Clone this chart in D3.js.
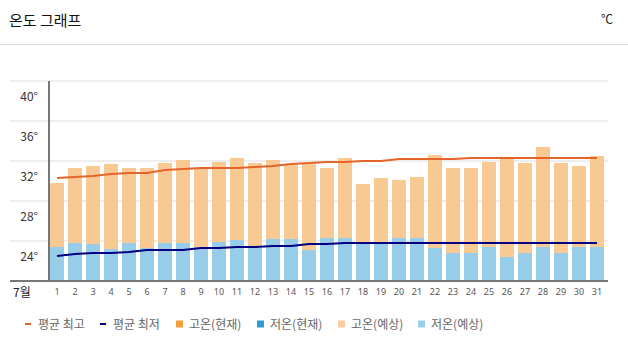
<!DOCTYPE html>
<html><head><meta charset="utf-8">
<script src="https://cdn.jsdelivr.net/npm/d3@7"></script>
<style>
html,body{margin:0;padding:0;background:#fff;}
svg{display:block;font-family:"Noto Sans CJK KR","Noto Sans",sans-serif;}
</style></head>
<body><svg id="c" width="628" height="355"></svg>
<script>
const days = d3.range(1, 32).map(String);
const yTicks = [24, 28, 32, 36, 40];
const highForecast = [29.8,31.3,31.5,31.7,31.3,31.3,31.8,32.1,31.3,31.9,32.3,31.8,32.1,31.7,31.7,31.3,32.3,29.7,30.3,30.1,30.4,32.6,31.3,31.3,31.9,32.3,31.8,33.4,31.8,31.5,32.5];
const lowForecast = [23.4,23.8,23.7,23.2,23.8,23.3,23.8,23.8,23.4,23.9,24.1,23.5,24.2,24.2,23.1,24.3,24.3,23.8,23.8,24.3,24.3,23.3,22.8,22.8,23.4,22.4,22.8,23.4,22.8,23.4,23.4];
const avgHigh = [30.3,30.4,30.5,30.7,30.8,30.8,31.1,31.2,31.3,31.3,31.3,31.4,31.5,31.7,31.8,31.9,31.9,32.0,32.0,32.2,32.2,32.2,32.2,32.3,32.3,32.3,32.3,32.3,32.3,32.3,32.3];
const avgLow = [22.5,22.7,22.8,22.8,22.9,23.1,23.1,23.1,23.3,23.3,23.4,23.4,23.5,23.5,23.7,23.7,23.8,23.8,23.8,23.8,23.8,23.8,23.8,23.8,23.8,23.8,23.8,23.8,23.8,23.8,23.8];
const highCurrent = [];
const lowCurrent = [];
const legendItems = [
  {label:"평균 최고", type:"line", color:"#e4642a"},
  {label:"평균 최저", type:"line", color:"#000080"},
  {label:"고온(현재)", type:"rect", color:"#f59c3e"},
  {label:"저온(현재)", type:"rect", color:"#2d9bd5"},
  {label:"고온(예상)", type:"rect", color:"#fdcd9d"},
  {label:"저온(예상)", type:"rect", color:"#9acfeb"}
];

const svg = d3.select("#c");
const x = d3.scaleBand().domain(days).range([48, 606]).paddingInner(4/18).paddingOuter(2/18);
const y = d3.scaleLinear().domain([20, 40]).range([281, 81]);

// header
svg.append("text").attr("x", 9).attr("y", 26).attr("font-size", 15).attr("fill", "#111").text("온도 그래프");
svg.append("text").attr("x", 613).attr("y", 24).attr("text-anchor", "end").attr("font-size", 12).attr("fill", "#222").text("℃");
svg.append("line").attr("x1", 0).attr("x2", 628).attr("y1", 44.5).attr("y2", 44.5).attr("stroke", "#dcdcdc").attr("stroke-width", 1);

// grid
svg.append("g").selectAll("line").data(yTicks).join("line")
  .attr("x1", 10).attr("x2", 608).attr("y1", d => y(d)).attr("y2", d => y(d))
  .attr("stroke", "#eeeeee").attr("stroke-width", 2);
svg.append("g").selectAll("text").data(yTicks).join("text")
  .attr("x", 38).attr("y", d => y(d) + 20).attr("text-anchor", "end")
  .attr("font-size", 12).attr("fill", "#333").text(d => d + "°");

// bars
svg.append("g").selectAll("rect").data(highForecast).join("rect")
  .attr("x", (d, i) => x(days[i])).attr("width", x.bandwidth())
  .attr("y", d => y(d)).attr("height", d => y(20) - y(d)).attr("fill", "#f9c993");
svg.append("g").selectAll("rect").data(lowForecast).join("rect")
  .attr("x", (d, i) => x(days[i])).attr("width", x.bandwidth())
  .attr("y", d => y(d)).attr("height", d => y(20) - y(d)).attr("fill", "#98cdea");
svg.append("g").selectAll("rect").data(highCurrent).join("rect")
  .attr("x", (d, i) => x(days[i])).attr("width", x.bandwidth())
  .attr("y", d => y(d)).attr("height", d => y(20) - y(d)).attr("fill", "#f59c3e");
svg.append("g").selectAll("rect").data(lowCurrent).join("rect")
  .attr("x", (d, i) => x(days[i])).attr("width", x.bandwidth())
  .attr("y", d => y(d)).attr("height", d => y(20) - y(d)).attr("fill", "#2d9bd5");

// lines
const line = d3.line().x((d, i) => x(days[i]) + x.bandwidth() / 2).y(d => y(d));
svg.append("path").datum(avgHigh).attr("d", line).attr("fill", "none").attr("stroke", "#e4642a").attr("stroke-width", 2);
svg.append("path").datum(avgLow).attr("d", line).attr("fill", "none").attr("stroke", "#000080").attr("stroke-width", 2);

// axes lines
svg.append("line").attr("x1", 49).attr("x2", 49).attr("y1", 81).attr("y2", 281).attr("stroke", "#777").attr("stroke-width", 2);
svg.append("line").attr("x1", 10).attr("x2", 608).attr("y1", 281).attr("y2", 281).attr("stroke", "#777").attr("stroke-width", 2);

// x labels
const xAxis = d3.axisBottom(x).tickSize(0).tickPadding(0);
const gx = svg.append("g").attr("transform", "translate(0,288)").call(xAxis);
gx.select(".domain").remove();
gx.selectAll("text").attr("font-size", 9).attr("fill", "#555").attr("dy", "0.75em")
  .style("font-family", "'Noto Sans','Noto Sans CJK KR',sans-serif");
svg.append("text").attr("x", 13).attr("y", 297).attr("font-size", 12).attr("fill", "#222").text("7월");

// legend
const lx = [25, 100, 176, 257, 338, 418];
const lg = svg.append("g").selectAll("g").data(legendItems).join("g")
  .attr("transform", (d, i) => `translate(${lx[i]},324)`);
lg.filter(d => d.type === "line").append("rect").attr("x", 0).attr("y", -1).attr("width", 6).attr("height", 2).attr("fill", d => d.color);
lg.filter(d => d.type === "rect").append("rect").attr("x", 0).attr("y", -3.5).attr("width", 7).attr("height", 7).attr("fill", d => d.color);
lg.append("text").attr("x", 13).attr("y", 4.5).attr("font-size", 12).attr("fill", "#666").text(d => d.label);
</script></body></html>
